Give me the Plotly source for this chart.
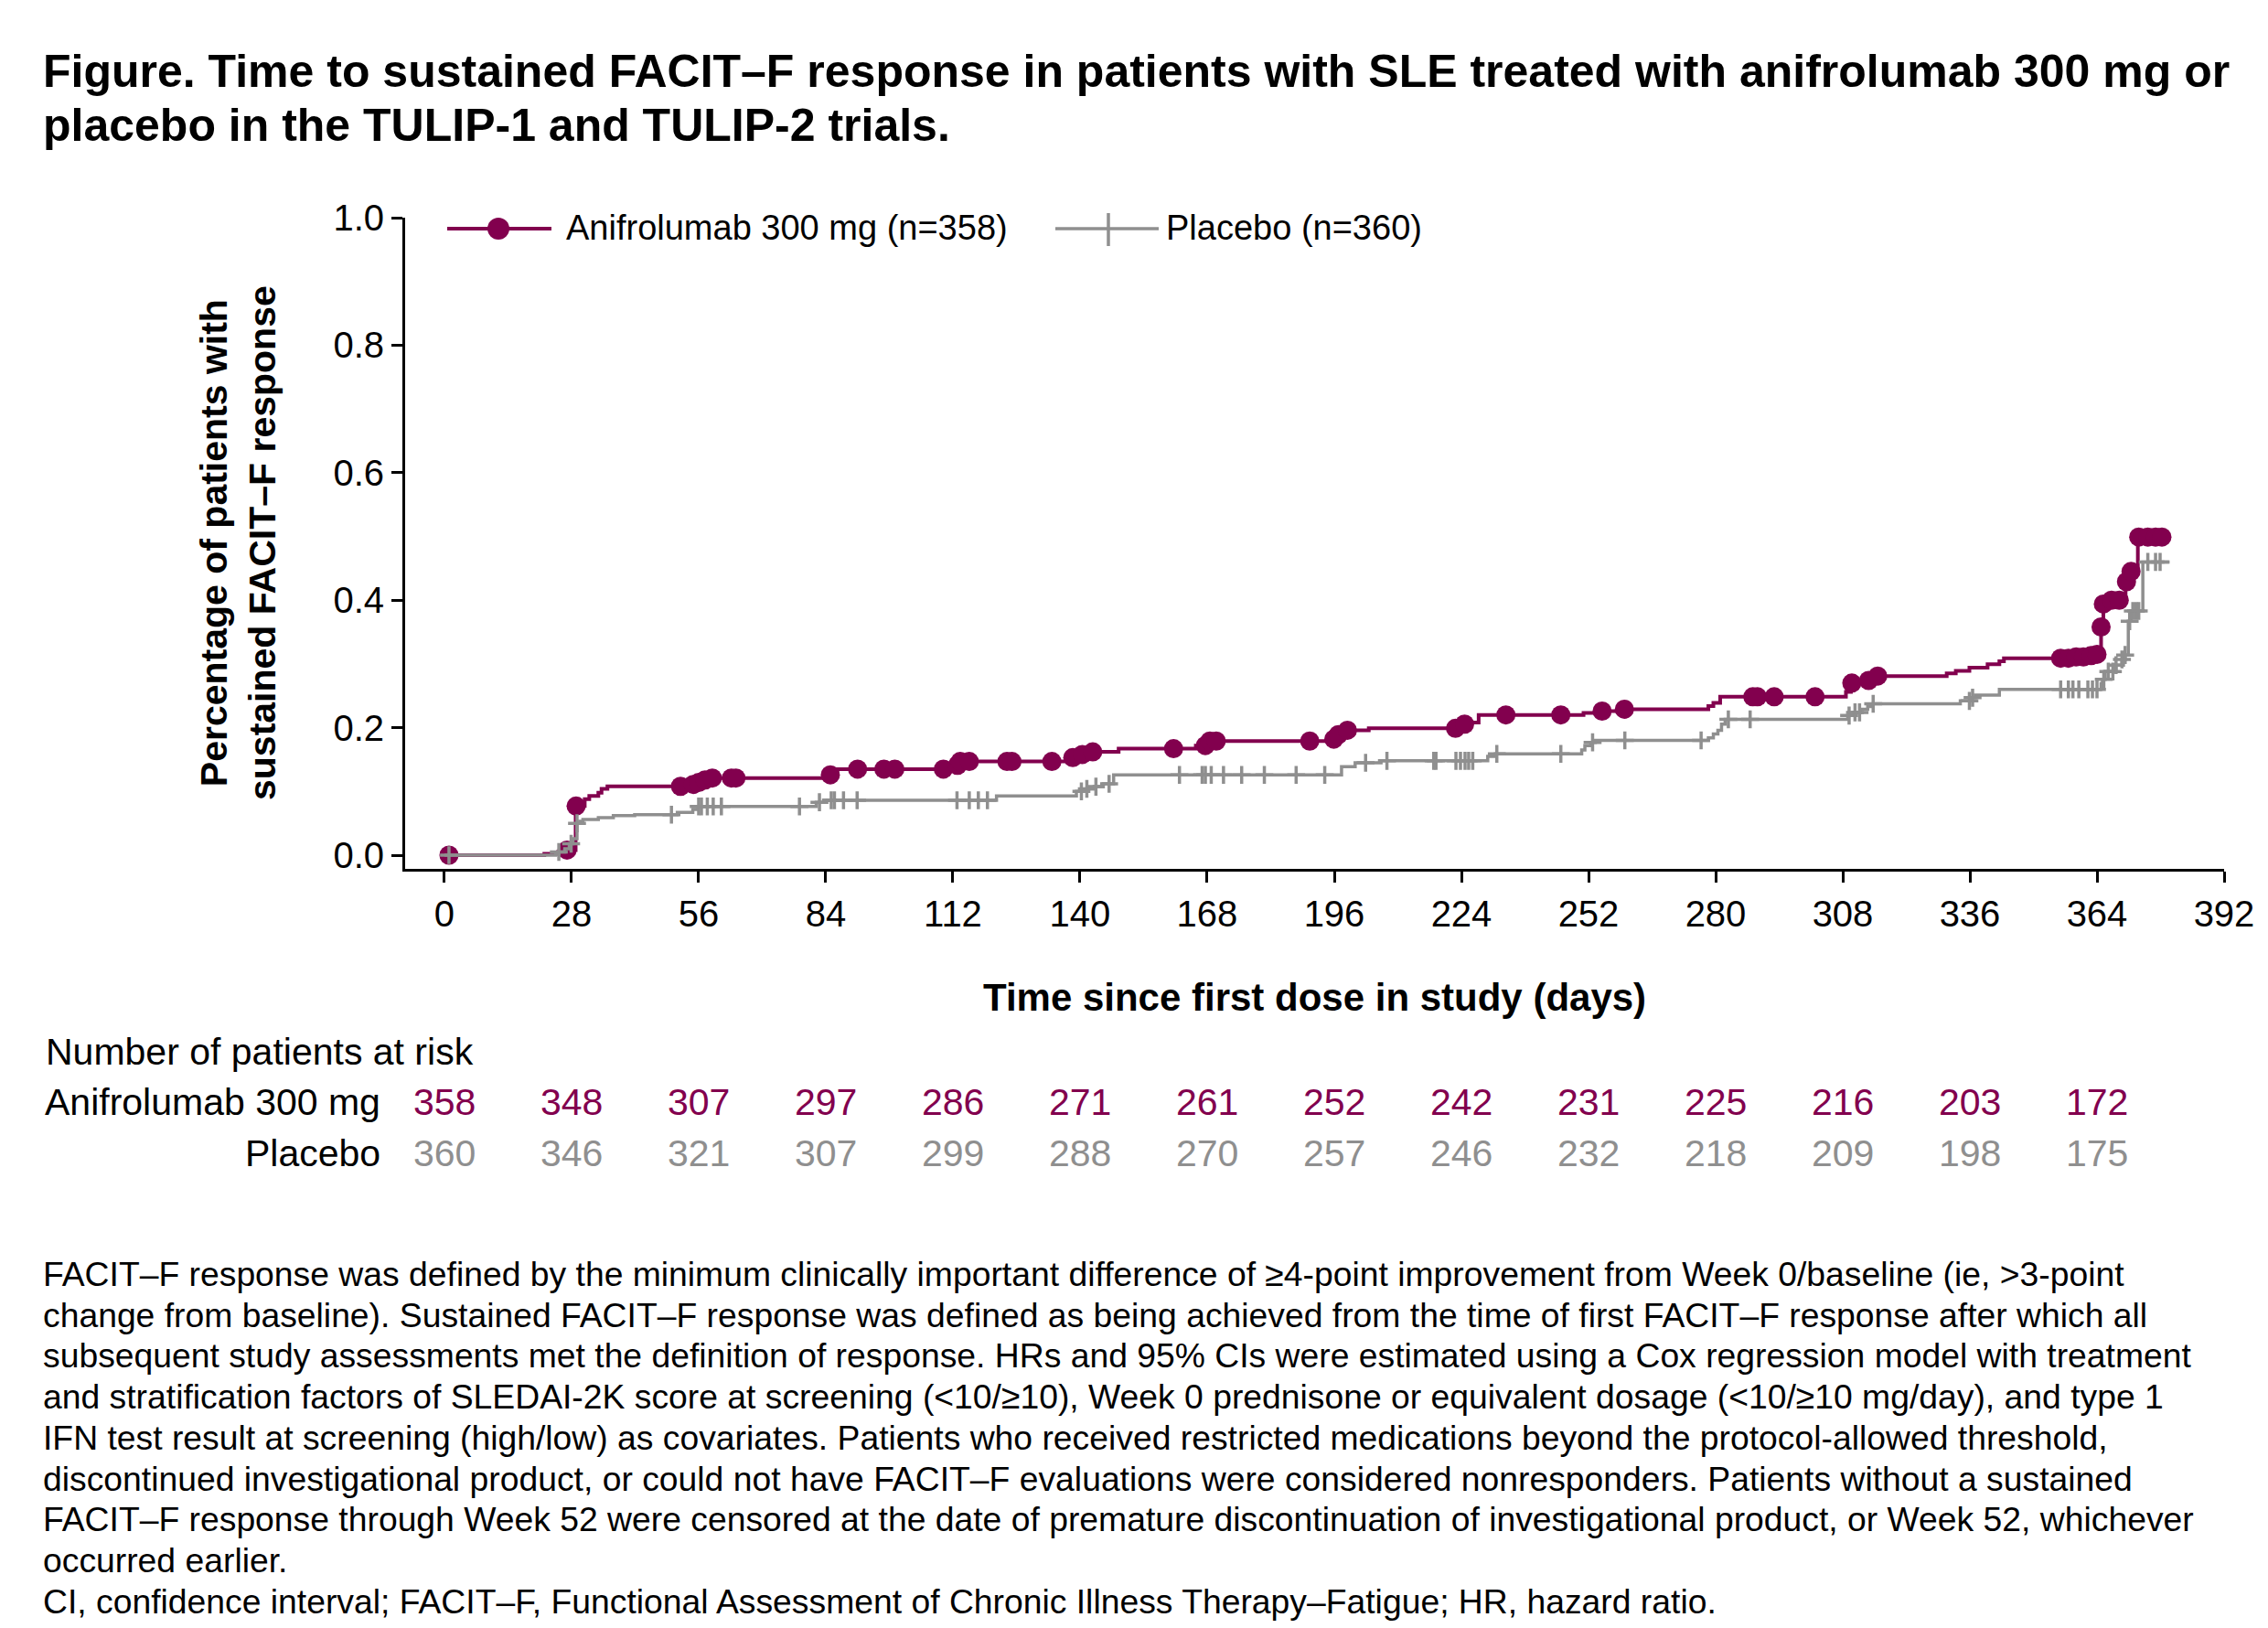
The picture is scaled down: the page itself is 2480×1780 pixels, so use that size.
import bisect
import plotly.graph_objects as go

# ---------------- data ----------------
anif_step_days = [0, 22, 25, 27, 28.9, 30.9, 31.9, 33.9, 34.6, 35.9, 54, 56, 57.2, 58.5, 84.5,
                  86.5, 111, 113.5, 138, 140.5, 142.5, 148.5, 165.5, 168.5, 195.5, 196.5, 198.5,
                  203.6, 224, 225, 227.8, 250.9, 254.5, 259.5, 278.4, 279.5, 281, 308.7, 309.8,
                  313.5, 315.5, 330.9, 332.9, 335.9, 339.9, 342.5, 343.5, 359, 362, 363.8, 364.9,
                  365.4, 367, 370.3, 371.4, 373]
anif_step_vals = [0.0, 0.002, 0.005, 0.008, 0.077, 0.088, 0.093, 0.098, 0.104, 0.108, 0.111, 0.114,
                  0.118, 0.121, 0.126, 0.135, 0.141, 0.147, 0.153, 0.158, 0.162, 0.167, 0.172, 0.179,
                  0.182, 0.189, 0.196, 0.199, 0.2055, 0.208, 0.220, 0.223, 0.226, 0.229, 0.234, 0.239,
                  0.2485, 0.256, 0.270, 0.274, 0.281, 0.285, 0.289, 0.294, 0.2996, 0.304, 0.309,
                  0.311, 0.313, 0.315, 0.358, 0.394, 0.400, 0.429, 0.445, 0.499]
anif_end_day = 379
anif_censor_days = [1, 27, 29, 52, 54.8, 56, 57.4, 59, 63.2, 64.2, 85, 91, 96.8, 99.2, 109.9, 113,
                    113.6, 115.6, 123.9, 125, 133.8, 138.4, 140.5, 142.8, 160.6, 167.6, 168.6, 170,
                    190.6, 195.9, 196.9, 198.9, 222.7, 224.7, 233.8, 245.9, 255, 259.9, 288.2, 289.2,
                    292.9, 301.9, 310, 313.7, 315.7, 356, 357.7, 359.4, 361, 362.7, 364, 364.9, 365.4,
                    367.2, 368.9, 370.5, 371.5, 373.2, 375.2, 376.9, 378.3]

pbo_step_days = [0, 24.5, 25.2, 26.5, 27.5, 28.3, 29.2, 29.8, 30.5, 33.9, 37.2, 41.9, 51.3, 54.7,
                 55.8, 81.9, 83.5, 121.6, 139.2, 141.5, 143.1, 145.1, 147.4, 197.6, 200.6, 206.3,
                 229.8, 231.5, 250.5, 251.2, 252.5, 253.5, 278.4, 279.5, 280.5, 281.3, 282.1, 309.1,
                 310.5, 311.9, 313.5, 314.7, 333.9, 336.2, 337.2, 342.5, 364.9, 365.2, 365.8, 368.2,
                 369.5, 370.2, 370.9, 371.5, 374.1]
pbo_step_vals = [0.0, 0.002, 0.005, 0.010, 0.018, 0.026, 0.050, 0.053, 0.056, 0.059, 0.062, 0.0636,
                 0.067, 0.0717, 0.0765, 0.083, 0.086, 0.093, 0.100, 0.104, 0.1075, 0.112, 0.126,
                 0.139, 0.145, 0.148, 0.155, 0.159, 0.165, 0.172, 0.177, 0.180, 0.184, 0.190, 0.196,
                 0.2055, 0.213, 0.219, 0.224, 0.229, 0.233, 0.2375, 0.242, 0.247, 0.251, 0.260,
                 0.269, 0.276, 0.288, 0.298, 0.307, 0.314, 0.367, 0.383, 0.460]
pbo_end_day = 380
pbo_censor_days = [1, 25.2, 27.9, 29.2, 50, 56, 56.6, 57.9, 59.2, 61, 78.2, 82.6, 85.2, 85.9, 87.9,
                   90.9, 112.9, 115.6, 117.6, 119.6, 140.3, 141.5, 143.5, 146.4, 161.9, 166.9, 167.6,
                   168.9, 171.6, 175.6, 180.6, 187.6, 193.9, 202.9, 207.6, 217.9, 218.4, 222.8, 223.8,
                   224.8, 225.6, 226.5, 231.8, 245.9, 252.9, 260, 276.8, 282.8, 287.6, 309.4, 310.7,
                   311.7, 314.7, 335.9, 336.6, 356, 357.7, 358.7, 360, 362, 363, 364, 365.5, 366.5,
                   367.5, 368.2, 369.5, 370.2, 371.2, 371.9, 372.6, 373.2, 375.2, 376.9, 377.9]

risk_days = [0, 28, 56, 84, 112, 140, 168, 196, 224, 252, 280, 308, 336, 364]
anif_at_risk = [358, 348, 307, 297, 286, 271, 261, 252, 242, 231, 225, 216, 203, 172]
pbo_at_risk = [360, 346, 321, 307, 299, 288, 270, 257, 246, 232, 218, 209, 198, 175]

x_tick_vals = [0, 28, 56, 84, 112, 140, 168, 196, 224, 252, 280, 308, 336, 364, 392]
y_tick_vals = [0.0, 0.2, 0.4, 0.6, 0.8, 1.0]

anif_name = "Anifrolumab 300 mg (n=358)"
pbo_name = "Placebo (n=360)"
anif_row_label = "Anifrolumab 300 mg"
pbo_row_label = "Placebo"

title_lines = [
    "Figure. Time to sustained FACIT–F response in patients with SLE treated with anifrolumab 300 mg or",
    "placebo in the TULIP-1 and TULIP-2 trials.",
]
footnote_lines = [
    "FACIT–F response was defined by the minimum clinically important difference of ≥4-point improvement from Week 0/baseline (ie, &gt;3-point",
    "change from baseline). Sustained FACIT–F response was defined as being achieved from the time of first FACIT–F response after which all",
    "subsequent study assessments met the definition of response. HRs and 95% CIs were estimated using a Cox regression model with treatment",
    "and stratification factors of SLEDAI-2K score at screening (&lt;10/≥10), Week 0 prednisone or equivalent dosage (&lt;10/≥10 mg/day), and type 1",
    "IFN test result at screening (high/low) as covariates. Patients who received restricted medications beyond the protocol-allowed threshold,",
    "discontinued investigational product, or could not have FACIT–F evaluations were considered nonresponders. Patients without a sustained",
    "FACIT–F response through Week 52 were censored at the date of premature discontinuation of investigational product, or Week 52, whichever",
    "occurred earlier.",
    "CI, confidence interval; FACIT–F, Functional Assessment of Chronic Illness Therapy–Fatigue; HR, hazard ratio.",
]

# ---------------- styling ----------------
MAROON = "#82004E"
GRAY = "#8F8F8F"
FONT = "Liberation Sans, Arial, sans-serif"
W, H = 2480, 1780
L, R, T, B = 443, 48, 238, 830
PW, PH = W - L - R, H - T - B


def px_x(px):
    return (px - L) / PW


def px_y(py):
    return (H - B - py) / PH


def step_value(days, vals, d):
    return vals[bisect.bisect_right(days, d) - 1]


anif_line_x = anif_step_days + [anif_end_day]
anif_line_y = anif_step_vals + [anif_step_vals[-1]]
pbo_line_x = pbo_step_days + [pbo_end_day]
pbo_line_y = pbo_step_vals + [pbo_step_vals[-1]]
anif_censor_vals = [step_value(anif_step_days, anif_step_vals, d) for d in anif_censor_days]
pbo_censor_vals = [step_value(pbo_step_days, pbo_step_vals, d) for d in pbo_censor_days]

fig = go.Figure()
fig.add_trace(go.Scatter(x=anif_line_x, y=anif_line_y, mode="lines",
                         line=dict(color=MAROON, width=4, shape="hv"), showlegend=False,
                         name=anif_name))
fig.add_trace(go.Scatter(x=anif_censor_days, y=anif_censor_vals, mode="markers",
                         marker=dict(symbol="circle", size=21, color=MAROON, line=dict(width=0)),
                         cliponaxis=False, showlegend=False, name=anif_name))
fig.add_trace(go.Scatter(x=pbo_line_x, y=pbo_line_y, mode="lines",
                         line=dict(color=GRAY, width=3.5, shape="hv"), showlegend=False,
                         name=pbo_name))
fig.add_trace(go.Scatter(x=pbo_censor_days, y=pbo_censor_vals, mode="markers",
                         marker=dict(symbol="cross-thin", size=14, color=GRAY,
                                     line=dict(color=GRAY, width=3.5)),
                         cliponaxis=False, showlegend=False, name=pbo_name))

axis_common = dict(showgrid=False, zeroline=False, showline=True, linecolor="black", linewidth=3,
                   ticks="outside", ticklen=12, tickwidth=3, tickcolor="black",
                   tickfont=dict(family=FONT, size=40, color="black"), fixedrange=True)
fig.update_layout(
    width=W, height=H, autosize=False,
    margin=dict(l=L, r=R, t=T, b=B, pad=0),
    paper_bgcolor="white", plot_bgcolor="white",
    font=dict(family=FONT, color="black"),
    xaxis=dict(range=[-8.66, 392], tickmode="array", tickvals=x_tick_vals, **axis_common),
    yaxis=dict(range=[-0.0215, 1.0], tickmode="array", tickvals=y_tick_vals, tickformat=".1f",
               **axis_common),
    showlegend=False,
)

ann = []
# title
for i, line in enumerate(title_lines):
    ann.append(dict(text="<b>" + line + "</b>", xref="paper", yref="paper", x=px_x(45),
                    y=px_y(78 + 59 * i), xanchor="left", yanchor="middle", showarrow=False,
                    font=dict(family=FONT, size=50, color="black")))
# axis titles
ann.append(dict(text="<b>Percentage of patients with<br>sustained FACIT–F response</b>",
                xref="paper", yref="paper", x=px_x(260), y=px_y(594), textangle=-90,
                xanchor="center", yanchor="middle", showarrow=False,
                font=dict(family=FONT, size=41, color="black")))
ann.append(dict(text="<b>Time since first dose in study (days)</b>", xref="paper", yref="paper",
                x=px_x(1437), y=px_y(1090), xanchor="center", yanchor="middle", showarrow=False,
                font=dict(family=FONT, size=42, color="black")))
# legend (drawn by hand to match the long key lines)
ann.append(dict(text=anif_name, xref="paper", yref="paper", x=px_x(617), y=px_y(249),
                xanchor="left", yanchor="middle", showarrow=False,
                font=dict(family=FONT, size=38, color="black")))
ann.append(dict(text=pbo_name, xref="paper", yref="paper", x=px_x(1273), y=px_y(249),
                xanchor="left", yanchor="middle", showarrow=False,
                font=dict(family=FONT, size=38, color="black")))
# at-risk table
ann.append(dict(text="Number of patients at risk", xref="paper", yref="paper", x=px_x(48),
                y=px_y(1150), xanchor="left", yanchor="middle", showarrow=False,
                font=dict(family=FONT, size=41, color="black")))
ann.append(dict(text=anif_row_label, xref="paper", yref="paper", x=px_x(418), y=px_y(1205),
                xanchor="right", yanchor="middle", showarrow=False,
                font=dict(family=FONT, size=41, color="black")))
ann.append(dict(text=pbo_row_label, xref="paper", yref="paper", x=px_x(418), y=px_y(1261),
                xanchor="right", yanchor="middle", showarrow=False,
                font=dict(family=FONT, size=41, color="black")))
for d, a, p in zip(risk_days, anif_at_risk, pbo_at_risk):
    ann.append(dict(text=str(a), xref="x", yref="paper", x=d, y=px_y(1205), xanchor="center",
                    yanchor="middle", showarrow=False, font=dict(family=FONT, size=41, color=MAROON)))
    ann.append(dict(text=str(p), xref="x", yref="paper", x=d, y=px_y(1261), xanchor="center",
                    yanchor="middle", showarrow=False, font=dict(family=FONT, size=41, color=GRAY)))
# footnotes
for i, line in enumerate(footnote_lines):
    ann.append(dict(text=line, xref="paper", yref="paper", x=px_x(45), y=px_y(1393 + 44.7 * i),
                    xanchor="left", yanchor="middle", showarrow=False,
                    font=dict(family=FONT, size=37.3, color="black")))
fig.update_layout(annotations=ann)

# legend keys
shapes = [
    dict(type="line", xref="paper", yref="paper", x0=px_x(489), x1=px_x(603), y0=px_y(250),
         y1=px_y(250), line=dict(color=MAROON, width=4)),
    dict(type="circle", xref="paper", yref="paper", x0=px_x(533), x1=px_x(557), y0=px_y(262),
         y1=px_y(238), fillcolor=MAROON, line=dict(width=0)),
    dict(type="line", xref="paper", yref="paper", x0=px_x(1154), x1=px_x(1267), y0=px_y(250),
         y1=px_y(250), line=dict(color=GRAY, width=3.5)),
    dict(type="line", xref="paper", yref="paper", x0=px_x(1212), x1=px_x(1212), y0=px_y(233),
         y1=px_y(269), line=dict(color=GRAY, width=3.5)),
]
fig.update_layout(shapes=shapes)

fig.write_html("out.html", config={"displayModeBar": False, "staticPlot": True},
               post_script="document.body.style.margin='0px';")
